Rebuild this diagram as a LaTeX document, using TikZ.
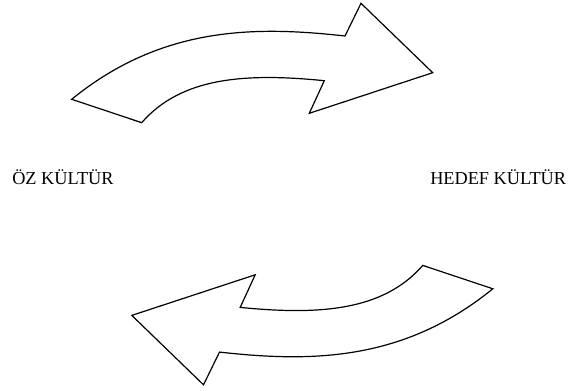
\documentclass[tikz,border=0pt]{standalone}
\usepackage{fontspec}
\setmainfont{Liberation Serif}
\begin{document}
\begin{tikzpicture}[x=0.75pt,y=-0.75pt,
  blockarrow/.style={draw=black,fill=white,line width=0.9pt,line join=miter},
  label/.style={inner sep=0pt,anchor=base west,font=\fontsize{13.7}{16}\selectfont}]
\useasboundingbox (0,0) rectangle (568,391);
% top arrow (left to right)
\def\curvedarrow{(71.7,99.3) .. controls (161.7,26) and (255,26) .. (345,36)
  -- (361,3.3) -- (432.7,72.7) -- (309.3,113.3) -- (324.3,80.7)
  .. controls (244.3,72.7) and (181.1,77.5) .. (141.7,122.7) -- cycle}
\draw[blockarrow] \curvedarrow;
% bottom arrow (right to left)
\begin{scope}[rotate around={180:(282.25,194.05)}]
\draw[blockarrow] \curvedarrow;
\end{scope}
\node[label] (oz) at (12,185) {ÖZ KÜLTÜR};
\node[label] (hedef) at (430,185) {HEDEF KÜLTÜR};
\end{tikzpicture}
\end{document}
